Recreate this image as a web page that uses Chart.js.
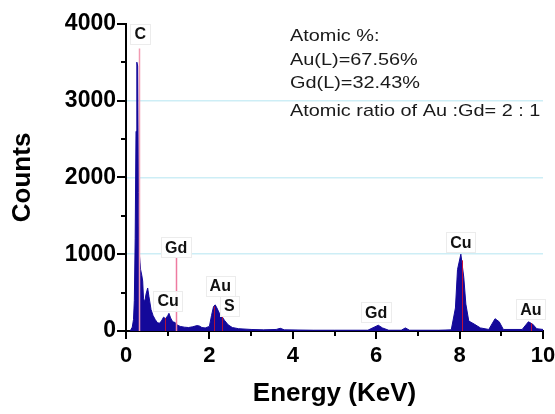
<!DOCTYPE html>
<html>
<head>
<meta charset="utf-8">
<script src="https://cdn.jsdelivr.net/npm/chart.js@4"></script>
<style>
  body { margin: 0; background: #fff; }
  canvas { display: block; }
</style>
</head>
<body>
<canvas id="eds-chart" width="555" height="414"></canvas>
<script>
// EDS spectrum
const energyKeV = [0.10, 0.15, 0.18, 0.20, 0.22, 0.24, 0.26, 0.28, 0.30, 0.32, 0.35, 0.38, 0.40, 0.42, 0.45,
    0.48, 0.52, 0.55, 0.60, 0.65, 0.70, 0.75, 0.80, 0.85, 0.90, 0.95, 1.00, 1.03, 1.07, 1.12, 1.18, 1.22,
    1.30, 1.40, 1.50, 1.60, 1.70, 1.76, 1.82, 1.90, 2.00, 2.05, 2.10, 2.14, 2.18, 2.24, 2.30, 2.36, 2.45,
    2.55, 2.70, 3.00, 3.30, 3.60, 3.70, 3.80, 4.50, 5.00, 5.80, 5.95, 6.05, 6.15, 6.30, 6.60, 6.70, 6.80,
    7.50, 7.80, 7.90, 7.95, 8.03, 8.10, 8.15, 8.22, 8.35, 8.50, 8.70, 8.85, 8.95, 9.05, 9.50, 9.65, 9.75,
    9.85, 10.0];
const counts = [0, 50, 150, 400, 1200, 2600, 3500, 3450, 1800, 1000, 800, 720, 650, 420, 380,
    480, 560, 450, 280, 200, 150, 110, 100, 130, 180, 160, 200, 230, 170, 120, 110, 80,
    60, 50, 45, 55, 70, 65, 45, 40, 60, 200, 320, 340, 300, 230, 190, 140, 80,
    45, 30, 20, 15, 20, 35, 15, 10, 10, 10, 50, 75, 40, 10, 10, 40, 10,
    10, 15, 300, 800, 1000, 700, 350, 130, 90, 40, 20, 160, 120, 20, 20, 120, 90,
    30, 20];

// element marker lines
const markerE = [0.30, 1.20, 0.93, 2.12, 2.31, 8.06, 9.72];
const markerTop = [3680, 960, 170, 320, 190, 920, 100];
const markerColors = ['#f29bb2', '#ee7ba0', '#b0103a', '#b0103a', '#b0103a', '#c0103a', '#c0103a'];

// peak labels
const peakNames = ['C', 'Gd', 'Cu', 'Au', 'S', 'Gd', 'Cu', 'Au'];
const peakLabelE = [0.34, 1.20, 1.01, 2.26, 2.48, 6.00, 8.03, 9.71];
const peakLabelCounts = [3870, 1090, 390, 585, 325, 245, 1155, 285];

const compositionText = ['Atomic %:', 'Au(L)=67.56%', 'Gd(L)=32.43%', 'Atomic ratio of Au :Gd= 2 : 1'];

const FONT = "'Liberation Sans', Arial, sans-serif";
const NAVY = '#14099a';

const annotationsPlugin = {
    id: 'annotations',
    afterDatasetsDraw(chart) {
        const ctx = chart.ctx;
        const x = chart.scales.x, y = chart.scales.y;
        ctx.save();
        markerE.forEach((e, i) => {
            const px = Math.round(x.getPixelForValue(e)) + 0.5;
            ctx.strokeStyle = markerColors[i];
            ctx.lineWidth = i < 2 ? 1.5 : 1;
            ctx.beginPath();
            ctx.moveTo(px, y.getPixelForValue(0));
            ctx.lineTo(px, y.getPixelForValue(markerTop[i]));
            ctx.stroke();
        });

        ctx.font = 'bold 16px ' + FONT;
        ctx.textAlign = 'center';
        ctx.textBaseline = 'middle';
        peakNames.forEach((name, i) => {
            const px = x.getPixelForValue(peakLabelE[i]);
            const py = y.getPixelForValue(peakLabelCounts[i]);
            const w = ctx.measureText(name).width + 8;
            ctx.fillStyle = 'rgba(255,255,255,0.9)';
            ctx.fillRect(px - w / 2, py - 10, w, 20);
            ctx.strokeStyle = '#ececec';
            ctx.strokeRect(Math.round(px - w / 2) + 0.5, Math.round(py - 10) + 0.5, Math.round(w), 20);
            ctx.fillStyle = '#111';
            ctx.fillText(name, px, py + 1);
        });

        // composition note, slightly wide like the source figure
        ctx.font = '17px ' + FONT;
        ctx.textAlign = 'left';
        ctx.textBaseline = 'alphabetic';
        ctx.fillStyle = '#1a1a1a';
        const lineY = [41, 65, 88, 116];
        compositionText.forEach((t, i) => {
            ctx.save();
            ctx.translate(290, lineY[i]);
            ctx.scale(1.17, 1);
            ctx.fillText(t, 0, 0);
            ctx.restore();
        });
        ctx.restore();
    },
    afterDraw(chart) {
        // major and minor tick marks, drawn outward
        const ctx = chart.ctx;
        const x = chart.scales.x, y = chart.scales.y;
        ctx.save();
        ctx.strokeStyle = '#000';
        ctx.lineWidth = 2;
        y.ticks.forEach(t => {
            const py = Math.round(y.getPixelForValue(t.value));
            const len = t.value % 1000 === 0 ? 9 : 5;
            ctx.beginPath();
            ctx.moveTo(y.right, py);
            ctx.lineTo(y.right - len, py);
            ctx.stroke();
        });
        x.ticks.forEach(t => {
            const px = Math.round(x.getPixelForValue(t.value));
            const len = t.value % 2 === 0 ? 8 : 5;
            ctx.beginPath();
            ctx.moveTo(px, x.top);
            ctx.lineTo(px, x.top + len);
            ctx.stroke();
        });
        ctx.restore();
    }
};

new Chart(document.getElementById('eds-chart').getContext('2d'), {
    type: 'line',
    data: {
        datasets: [{
            data: energyKeV.map((e, i) => ({ x: e, y: counts[i] })),
            borderColor: NAVY,
            backgroundColor: NAVY,
            borderWidth: 1,
            pointRadius: 0,
            fill: 'origin',
            tension: 0
        }]
    },
    options: {
        responsive: false,
        devicePixelRatio: 1,
        animation: false,
        layout: { padding: { left: 4, right: 0, top: 23, bottom: 2 } },
        plugins: { legend: { display: false }, tooltip: { enabled: false } },
        scales: {
            x: {
                type: 'linear',
                min: 0,
                max: 10,
                afterFit: s => { s.height = 81; s.paddingRight = 12; },
                ticks: {
                    stepSize: 1,
                    autoSkip: false,
                    maxRotation: 0,
                    padding: 12,
                    color: '#000',
                    font: { family: FONT, size: 22, weight: 'bold' },
                    callback: v => v % 2 === 0 ? v : ''
                },
                grid: { display: false, drawTicks: false },
                border: { display: true, color: '#000', width: 2 },
                title: {
                    display: true,
                    text: 'Energy (KeV)',
                    color: '#000',
                    font: { family: FONT, size: 26, weight: 'bold' },
                    padding: { top: 0, bottom: 3 }
                }
            },
            y: {
                min: 0,
                max: 4000,
                afterFit: s => { s.width = 122; },
                ticks: {
                    stepSize: 500,
                    autoSkip: false,
                    padding: 10,
                    color: '#000',
                    font: { family: FONT, size: 23, weight: 'bold' },
                    callback: v => v % 1000 === 0 ? v : ''
                },
                grid: {
                    drawTicks: false,
                    lineWidth: 1.5,
                    color: c => (c.tick && c.tick.value % 1000 === 0 && c.tick.value > 0 && c.tick.value < 4000) ? '#cdeef6' : 'transparent'
                },
                border: { display: true, color: '#000', width: 2 },
                title: {
                    display: true,
                    text: 'Counts',
                    color: '#000',
                    font: { family: FONT, size: 26, weight: 'bold' },
                    padding: { top: 3, bottom: 0 }
                }
            }
        }
    },
    plugins: [annotationsPlugin]
});
</script>
</body>
</html>
